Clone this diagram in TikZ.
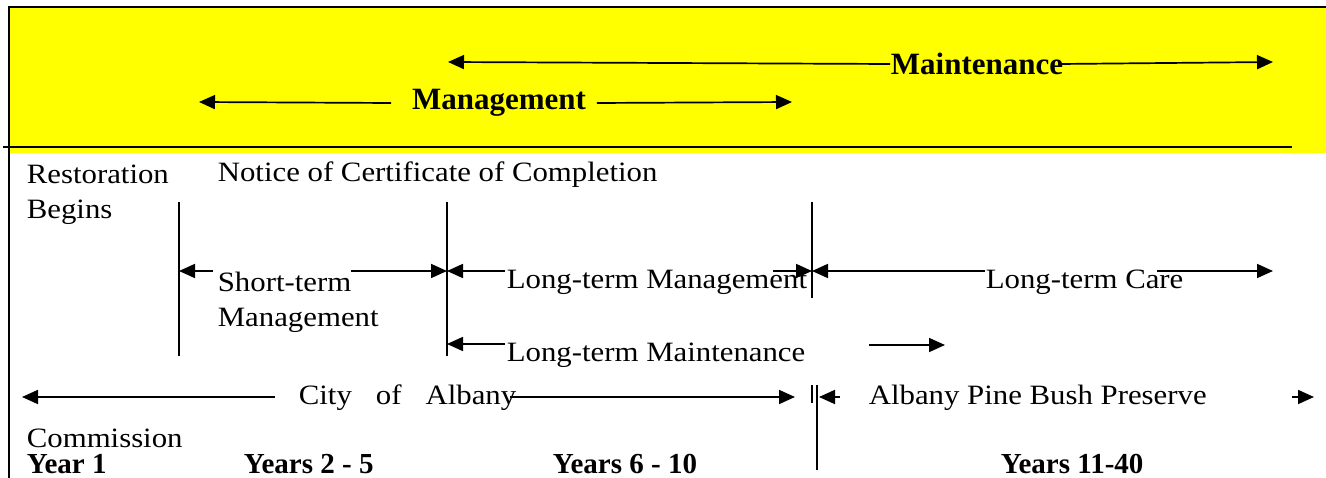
\documentclass[tikz,border=0pt]{standalone}
\usepackage{fontspec}
\setmainfont[FakeStretch=1.1]{Liberation Serif}
\newfontfamily\hdfont{Liberation Serif}
\usetikzlibrary{arrows.meta}
\definecolor{band}{RGB}{255,255,0}

\begin{document}
\begin{tikzpicture}[x=1pt,y=-1pt,line width=1.7pt,
  tip/.style={-{Triangle[length=16pt,width=14pt]}},
  lbl/.style={font=\fontsize{28}{35}\selectfont,inner sep=0pt,anchor=base west},
  head/.style={font=\hdfont\bfseries\fontsize{31}{36}\selectfont,inner sep=0pt},
  yr/.style={font=\hdfont\bfseries\fontsize{29}{34}\selectfont,inner sep=0pt,anchor=base west},
  tick/.style={line width=1.5pt}]

  \useasboundingbox (0,0) rectangle (1326,478);

  % yellow band
  \fill[band] (9,7) rectangle (1326,153);
  \draw[line width=2.5pt] (9,478) -- (9,7) -- (1326,7);
  \draw[line width=2pt] (3,147) -- (1292,147);

  \node[head] (mnt) at (977,64) {Maintenance};
  \node[head] (mgt) at (499,103) {Management};
  \coordinate (mnL) at (448,62);
  \coordinate (mnR) at (1273,62);
  \coordinate (mgL) at (199,102);
  \coordinate (mgR) at (792,102);
  \draw[tip] (mnt.west) -- (mnL);
  \draw[tip] ([xshift=-4pt]mnt.east) -- (mnR);
  \draw[tip] ([xshift=-20pt]mgt.west) -- (mgL);
  \draw[tip] ([xshift=10pt]mgt.east) -- (mgR);

  % milestones
  \node[lbl,anchor=north west,align=left] (rest) at (26,164) {Restoration\\Begins};
  \node[lbl] (notice) at (217,182) {Notice of Certificate of Completion};

  \coordinate (m1t) at (179,202);
  \coordinate (m1b) at (179,356);
  \coordinate (m2t) at (447,202);
  \coordinate (m2b) at (447,356);
  \coordinate (m3t) at (812,202);
  \coordinate (m3b) at (812,298);
  \draw[tick] (m1t) -- (m1b);
  \draw[tick] (m2t) -- (m2b);
  \draw[tick] (m3t) -- (m3b);

  % periods
  \node[lbl,anchor=north west,align=left] (stm) at (217,271) {Short-term\\Management};
  \node[lbl] (ltm) at (506,289) {Long-term Management};
  \node[lbl] (ltc) at (985,289) {Long-term Care};
  \node[lbl] (ltx) at (506,362) {Long-term Maintenance};

  \coordinate (p1) at (179,271);
  \coordinate (p2) at (447,271);
  \coordinate (p3) at (812,271);
  \coordinate (p4) at (1273,271);
  \coordinate (stA) at (213,271);
  \coordinate (stB) at (351,271);
  \coordinate (ltA) at (505,271);
  \coordinate (ltB) at (773,271);
  \coordinate (lcA) at (985,271);
  \coordinate (lcB) at (1157,271);
  \draw[tip] (stA) -- (p1);
  \draw[tip] (stB) -- (p2);
  \draw[tip] (ltA) -- (p2);
  \draw[tip] (ltB) -- (p3);
  \draw[tip] (lcA) -- (p3);
  \draw[tip] (lcB) -- (p4);

  \coordinate (q1) at (447,344);
  \coordinate (lxA) at (505,344);
  \coordinate (lxB) at (869,345);
  \coordinate (q2) at (945,345);
  \draw[tip] (lxA) -- (q1);
  \draw[tip] (lxB) -- (q2);

  % who is in charge
  \node[lbl] (city) at (298,405) {City\hspace{24pt}of\hspace{24pt}Albany};
  \node[lbl] (apb) at (868,405) {Albany Pine Bush Preserve};
  \node[lbl] (comm) at (26,447) {Commission};

  \coordinate (c1) at (22,397);
  \coordinate (caA) at (275,397);
  \coordinate (caB) at (510,397);
  \coordinate (c2) at (795,397);
  \coordinate (pbA) at (840,397);
  \coordinate (c3) at (819,397);
  \coordinate (pbB) at (1292,397);
  \coordinate (c4) at (1314,397);
  \draw[tip] (caA) -- (c1);
  \draw[tip] (caB) -- (c2);
  \draw[tip] (pbA) -- (c3);
  \draw[tip] (pbB) -- (c4);

  \coordinate (s1t) at (812,385);
  \coordinate (s1b) at (812,403);
  \coordinate (s2t) at (817,385);
  \coordinate (s2b) at (817,470);
  \draw[tick] (s1t) -- (s1b);
  \draw[tick] (s2t) -- (s2b);

  % years
  \node[yr] (y1) at (26,473) {Year 1};
  \node[yr] (y2) at (243,473) {Years 2 - 5};
  \node[yr] (y3) at (552,473) {Years 6 - 10};
  \node[yr] (y4) at (1000,473) {Years 11-40};

\end{tikzpicture}
\end{document}
